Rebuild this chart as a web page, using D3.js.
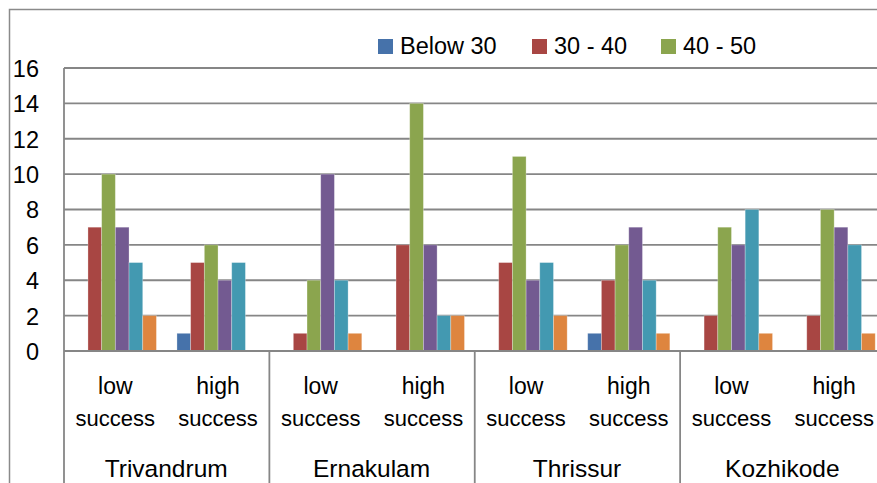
<!DOCTYPE html>
<html><head><meta charset="utf-8">
<script src="https://cdn.jsdelivr.net/npm/d3@7"></script>
<style>
html,body{margin:0;padding:0;background:#fff;}
svg{display:block;font-family:"Liberation Sans",Arial,sans-serif;}
</style></head>
<body><svg id="c" width="877" height="483"></svg>
<script>
const districts = ["Trivandrum","Ernakulam","Thrissur","Kozhikode"];
const levels = ["low success","high success"];
const seriesNames = ["Below 30","30 - 40","40 - 50","50 - 60","60 - 70","Above 70"];
const seriesColors = ["#4672AA","#A84643","#8BA54E","#735A91","#4399B1","#DE853F"];
// values per subcategory (district × level), in series order
const below30 = [0,1, 0,0, 0,1, 0,0];
const s30_40  = [7,5, 1,6, 5,4, 2,2];
const s40_50  = [10,6, 4,14, 11,6, 7,8];
const s50_60  = [7,4, 10,6, 4,7, 6,7];
const s60_70  = [5,5, 4,2, 5,4, 8,6];
const above70 = [2,0, 1,2, 2,1, 1,1];
const yTicks = [0,2,4,6,8,10,12,14,16];
const legendShown = 3;

(function(){
const seriesValues = [below30,s30_40,s40_50,s50_60,s60_70,above70];
const subcats = [];
districts.forEach(d => levels.forEach(l => subcats.push(d + "|" + l)));

const svg = d3.select("#c");
const pL = 64, pR = 885.5, pT = 68, zero = 351;

const x0 = d3.scaleBand().domain(subcats).range([pL, pR]).paddingInner(0).paddingOuter(0);
const x1 = d3.scaleBand().domain(d3.range(seriesNames.length)).range([0, x0.bandwidth()]).paddingOuter(0.75).paddingInner(0);
const xg = d3.scaleBand().domain(districts).range([pL, pR]);
const y = d3.scaleLinear().domain([0,16]).range([zero, pT]);

// outer chart border
svg.append("path").attr("d", "M9.5,483 V9.5 H877").attr("fill","none").attr("stroke","#8a8a8a").attr("stroke-width",1.5);

// gridlines
svg.append("g").selectAll("line").data(yTicks).join("line")
  .attr("x1", pL).attr("x2", 877).attr("y1", d=>y(d)).attr("y2", d=>y(d))
  .attr("stroke","#868686").attr("stroke-width",1.8);

// bars
const rows = [];
subcats.forEach((sc, i) => seriesValues.forEach((vals, s) => rows.push({sc, s, v: vals[i]})));
svg.append("g").selectAll("rect").data(rows.filter(r=>r.v>0)).join("rect")
  .attr("x", d => x0(d.sc) + x1(d.s))
  .attr("width", x1.bandwidth())
  .attr("y", d => y(d.v))
  .attr("height", d => zero - y(d.v))
  .attr("fill", d => seriesColors[d.s])
  .attr("stroke","rgba(255,255,255,0.35)").attr("stroke-width",0.8);

// y axis labels
const ya = svg.append("g").attr("transform", `translate(${pL},0)`)
  .call(d3.axisLeft(y).tickValues(yTicks).tickSize(0).tickPadding(25));
ya.select(".domain").remove();
ya.selectAll("text").attr("font-size", 23.5).attr("fill","#000")
  .attr("font-family","Liberation Sans, Arial, sans-serif").attr("dy","0.36em");

// axis lines
svg.append("line").attr("x1",pL).attr("x2",pL).attr("y1",pT).attr("y2",483).attr("stroke","#868686").attr("stroke-width",1.8);
svg.append("line").attr("x1",pL).attr("x2",877).attr("y1",zero).attr("y2",zero).attr("stroke","#868686").attr("stroke-width",1.8);
svg.append("g").selectAll("line").data(districts.slice(1)).join("line")
  .attr("x1", d=>xg(d)).attr("x2", d=>xg(d)).attr("y1", zero).attr("y2", 483)
  .attr("stroke","#868686").attr("stroke-width",1.8);

// category labels
const lab = svg.append("g").attr("fill","#000").attr("text-anchor","middle");
subcats.forEach(sc => {
  const [d, l] = sc.split("|");
  const [w1, w2] = l.split(" ");
  const cx = x0(sc) + x0.bandwidth()/2;
  lab.append("text").attr("x", cx).attr("y", 394).attr("font-size", 23).text(w1);
  lab.append("text").attr("x", cx).attr("y", 426).attr("font-size", 22).text(w2);
});
districts.forEach(d => {
  lab.append("text").attr("x", xg(d) + xg.bandwidth()/2 - 0.5).attr("y", 477).attr("font-size", 24.5).text(d);
});

// legend
const legX = [378, 532, 661];
const leg = svg.append("g");
seriesNames.slice(0, legendShown).forEach((n, i) => {
  leg.append("rect").attr("x", legX[i]).attr("y", 39).attr("width", 15).attr("height", 15).attr("fill", seriesColors[i]);
  leg.append("text").attr("x", legX[i] + 22).attr("y", 54).attr("font-size", 23.5).attr("fill","#000").text(n);
});
})();
</script></body></html>
